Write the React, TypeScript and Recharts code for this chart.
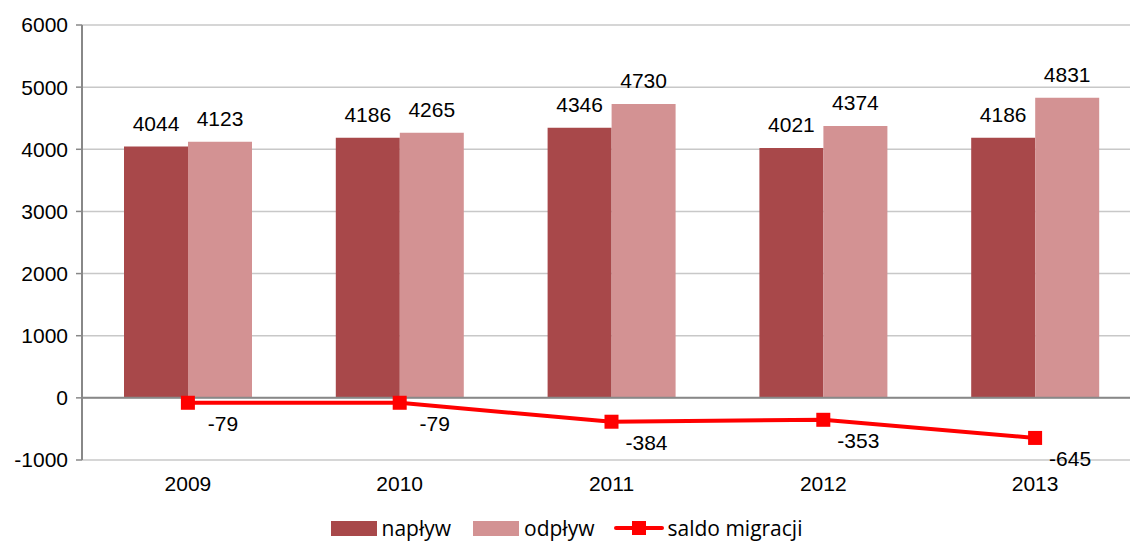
import React from 'react';
import { ComposedChart, Bar, Line, XAxis, YAxis, CartesianGrid, Legend, LabelList, ReferenceLine } from 'recharts';

const years = ['2009', '2010', '2011', '2012', '2013'];
const naplyw = [4044, 4186, 4346, 4021, 4186];
const odplyw = [4123, 4265, 4730, 4374, 4831];
const saldo = [-79, -79, -384, -353, -645];
const yTicks = [-1000, 0, 1000, 2000, 3000, 4000, 5000, 6000];

const data = years.map((y, i) => ({ year: y, naplyw: naplyw[i], odplyw: odplyw[i], saldo: saldo[i] }));

const C1 = '#A8484A';
const C2 = '#D39293';
const RED = '#FF0000';
const FONT = 'Liberation Sans, Arial, sans-serif';
const FS = 21;

const SquareDot = (props: any) => {
  const { cx, cy } = props;
  if (cx == null || cy == null) return null;
  return <rect x={cx - 7} y={cy - 7} width={14} height={14} fill={RED} />;
};

const LineLabel = (props: any) => {
  const { x, y, value } = props;
  return (
    <text x={x + 35} y={y + 28} textAnchor="middle" fontSize={FS} fontFamily={FONT} fill="#000">
      {value}
    </text>
  );
};

const LegendContent = () => (
  <div style={{ height: 51, boxSizing: 'border-box', paddingTop: 25, display: 'flex', justifyContent: 'center', alignItems: 'center', fontFamily: 'Open Sans, sans-serif', fontSize: 21, color: '#000', lineHeight: '26px', paddingRight: 8 }}>
    <div style={{ display: 'flex', alignItems: 'center', marginRight: 22 }}>
      <div style={{ width: 46, height: 15, background: C1, marginRight: 5 }} />
      <span>napływ</span>
    </div>
    <div style={{ display: 'flex', alignItems: 'center', marginRight: 20 }}>
      <div style={{ width: 46, height: 15, background: C2, marginRight: 5 }} />
      <span>odpływ</span>
    </div>
    <div style={{ display: 'flex', alignItems: 'center' }}>
      <svg width={50} height={16} style={{ marginRight: 3 }}>
        <line x1={2} y1={8} x2={48} y2={8} stroke={RED} strokeWidth={4} strokeLinecap="round" />
        <rect x={18} y={1} width={14} height={14} fill={RED} />
      </svg>
      <span>saldo migracji</span>
    </div>
  </div>
);

export default function App() {
  return (
    <div style={{ position: 'absolute', left: 0, top: 0, background: '#fff', width: 1130, height: 541, overflow: 'hidden' }}>
      <ComposedChart
        width={1130}
        height={541}
        data={data}
        margin={{ top: 25, right: -11, bottom: 0, left: 0 }}
        barGap={0}
        barCategoryGap={42}
      >
        <CartesianGrid vertical={false} stroke="#C8C8C8" strokeWidth={1.5} />
        <XAxis
          dataKey="year"
          axisLine={false}
          tickLine={false}
          height={30}
          tick={{ fontSize: FS, fontFamily: FONT, fill: '#000' }}
          tickMargin={10}
        />
        <YAxis
          domain={[-1000, 6000]}
          ticks={yTicks}
          width={82}
          interval={0}
          axisLine={{ stroke: '#888', strokeWidth: 2 }}
          tickLine={{ stroke: '#888', strokeWidth: 1.5 }}
          tickSize={6}
          tickMargin={8}
          tick={{ fontSize: FS, fontFamily: FONT, fill: '#000' }}
        />
        <ReferenceLine y={0} stroke="#888" strokeWidth={2} />
        <Bar dataKey="naplyw" fill={C1} isAnimationActive={false}>
          <LabelList dataKey="naplyw" position="top" offset={16} style={{ fontSize: FS, fontFamily: FONT, fill: '#000' }} />
        </Bar>
        <Bar dataKey="odplyw" fill={C2} isAnimationActive={false}>
          <LabelList dataKey="odplyw" position="top" offset={16} style={{ fontSize: FS, fontFamily: FONT, fill: '#000' }} />
        </Bar>
        <Line
          dataKey="saldo"
          stroke={RED}
          strokeWidth={4}
          dot={<SquareDot />}
          activeDot={false}
          isAnimationActive={false}
        >
          <LabelList dataKey="saldo" content={<LineLabel />} />
        </Line>
        <Legend verticalAlign="bottom" content={<LegendContent />} />
      </ComposedChart>
    </div>
  );
}
